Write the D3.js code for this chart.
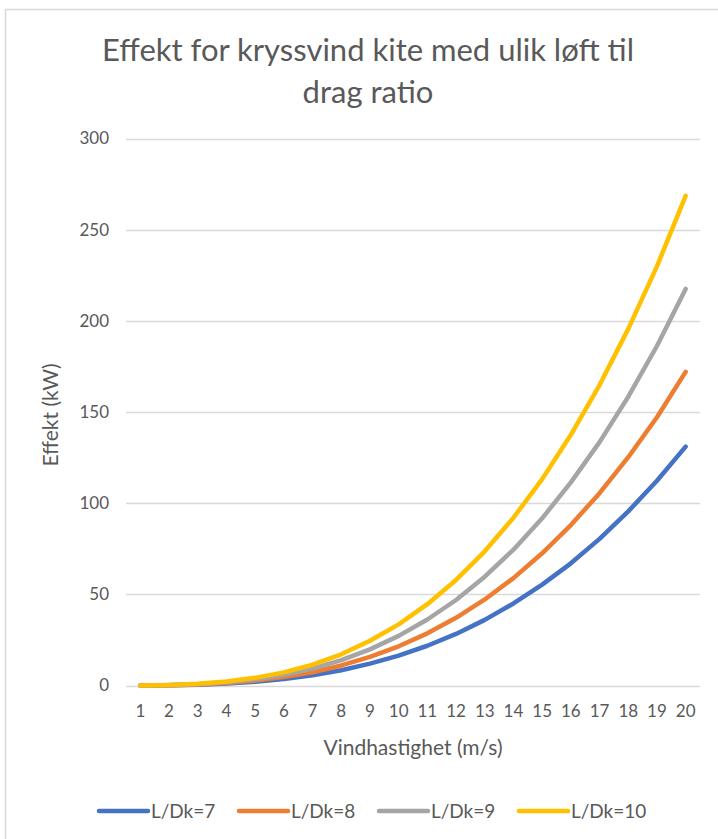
<!DOCTYPE html>
<html>
<head>
<meta charset="utf-8">
<script src="https://cdn.jsdelivr.net/npm/d3@7"></script>
<style>
  html, body { margin: 0; padding: 0; background: #fff; }
  svg { display: block; }
  text { font-family: Lato, "Open Sans", sans-serif; fill: #595959; }
</style>
</head>
<body>
<svg id="chart" width="718" height="839"></svg>
<script>
// Wind speeds (m/s) on the category axis
const windSpeeds = [1, 2, 3, 4, 5, 6, 7, 8, 9, 10, 11, 12, 13, 14, 15, 16, 17, 18, 19, 20];

// Power output (kW) per lift-to-drag ratio
const powerLD7  = [0.02, 0.13, 0.44, 1.05, 2.05, 3.5, 5.6, 8.4, 12, 16.4, 21.8, 28.3, 36, 45, 55.3, 67, 80.4, 95.5, 112.3, 131];
const powerLD8  = [0.02, 0.17, 0.58, 1.37, 2.7, 4.6, 7.3, 11, 15.7, 21.5, 28.6, 37.1, 47.2, 58.9, 72.5, 88, 105.5, 125.2, 147.1, 172];
const powerLD9  = [0.03, 0.22, 0.73, 1.74, 3.4, 5.8, 9.3, 13.9, 19.8, 27.2, 36.2, 46.9, 59.7, 74.5, 91.7, 111.4, 133.5, 158.4, 186.2, 217.5];
const powerLD10 = [0.03, 0.27, 0.91, 2.15, 4.2, 7.2, 11.4, 17.1, 24.5, 33.5, 44.6, 57.9, 73.6, 92, 113.2, 137.5, 164.8, 195.6, 229.9, 268.5];

const seriesNames = ["L/Dk=7", "L/Dk=8", "L/Dk=9", "L/Dk=10"];
const seriesColors = ["#4472c4", "#ed7d31", "#a5a5a5", "#ffc000"];
const yTicks = [0, 50, 100, 150, 200, 250, 300];

const series = [powerLD7, powerLD8, powerLD9, powerLD10].map((vals, i) => ({
  name: seriesNames[i],
  color: seriesColors[i],
  values: vals.map((v, j) => ({ x: windSpeeds[j], y: v }))
}));

const svg = d3.select("#chart");

// Chart frame
svg.append("rect")
  .attr("x", 5.5).attr("y", 9.5)
  .attr("width", 760).attr("height", 900)
  .attr("fill", "#fff")
  .attr("stroke", "#d9d9d9").attr("stroke-width", 1.5);

// Plot area
const plot = { left: 126, right: 700, top: 138.5, bottom: 685.5 };

const x = d3.scaleBand()
  .domain(windSpeeds)
  .range([plot.left, plot.right])
  .padding(0);

const y = d3.scaleLinear()
  .domain([0, 300])
  .range([plot.bottom, plot.top]);

// Horizontal gridlines
svg.append("g")
  .selectAll("line")
  .data(yTicks)
  .join("line")
  .attr("x1", plot.left).attr("x2", plot.right)
  .attr("y1", d => Math.round(y(d)) + 0.5)
  .attr("y2", d => Math.round(y(d)) + 0.5)
  .attr("stroke", "#d9d9d9")
  .attr("stroke-width", 1.3);

// Y axis labels
const yAxis = svg.append("g")
  .attr("transform", `translate(${plot.left - 17},0)`)
  .call(d3.axisLeft(y).tickValues(yTicks).tickSize(0).tickPadding(0));
yAxis.select(".domain").remove();
yAxis.selectAll("text")
  .attr("font-size", 17)
  .attr("font-family", "Lato, 'Open Sans', sans-serif")
  .attr("fill", "#595959");

// X axis labels
const xAxis = svg.append("g")
  .attr("transform", `translate(0,${plot.bottom + 19})`)
  .call(d3.axisBottom(x).tickSize(0).tickPadding(0));
xAxis.select(".domain").remove();
xAxis.selectAll("text")
  .attr("font-size", 17)
  .attr("font-family", "Lato, 'Open Sans', sans-serif")
  .attr("fill", "#595959");

// Series lines
const line = d3.line()
  .x(d => x(d.x) + x.bandwidth() / 2)
  .y(d => y(d.y))
  .curve(d3.curveLinear);

svg.append("g")
  .selectAll("path")
  .data(series)
  .join("path")
  .attr("d", d => line(d.values))
  .attr("fill", "none")
  .attr("stroke", d => d.color)
  .attr("stroke-width", 4.5)
  .attr("stroke-linecap", "round")
  .attr("stroke-linejoin", "round");

// Title
const title = svg.append("text")
  .attr("text-anchor", "middle")
  .attr("font-size", 31)
  .attr("fill", "#595959");
title.append("tspan").attr("x", 368).attr("y", 61).text("Effekt for kryssvind kite med ulik løft til");
title.append("tspan").attr("x", 368).attr("y", 103).text("drag ratio");

// Axis titles
svg.append("text")
  .attr("x", 413).attr("y", 755)
  .attr("text-anchor", "middle")
  .attr("font-size", 21)
  .text("Vindhastighet (m/s)");

svg.append("text")
  .attr("transform", "translate(58,415) rotate(-90)")
  .attr("text-anchor", "middle")
  .attr("font-size", 21)
  .text("Effekt (kW)");

// Legend
const legendX = [99, 239, 379, 519];
const legend = svg.append("g")
  .selectAll("g")
  .data(series)
  .join("g")
  .attr("transform", (d, i) => `translate(${legendX[i]},811)`);
legend.append("line")
  .attr("x1", 0).attr("x2", 49)
  .attr("stroke", d => d.color)
  .attr("stroke-width", 4.5)
  .attr("stroke-linecap", "round");
legend.append("text")
  .attr("x", 52).attr("dy", "0.35em")
  .attr("font-size", 19)
  .text(d => d.name);
</script>
</body>
</html>
